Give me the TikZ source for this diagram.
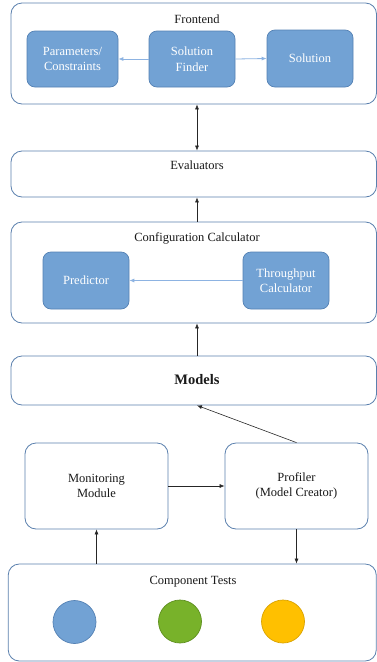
\documentclass[tikz,border=0pt]{standalone}
\usepackage{fontspec}
\setmainfont{Liberation Serif}
\usetikzlibrary{arrows.meta}
\definecolor{outerline}{HTML}{5B80AE}
\definecolor{innerfill}{HTML}{72A2D4}
\definecolor{innerline}{HTML}{5481B4}
\definecolor{lightarrow}{HTML}{8DB3E2}
\definecolor{cgreen}{HTML}{78B22A}
\definecolor{cgreenl}{HTML}{5E8F1F}
\definecolor{cyellow}{HTML}{FFC000}
\definecolor{cyellowl}{HTML}{D9A200}
\definecolor{txt}{HTML}{1A1A1A}
\begin{document}
\begin{tikzpicture}[x=1pt,y=-1pt,
  outerbox/.style={draw=outerline,line width=0.8pt,rounded corners=11pt,fill=white,inner sep=0pt},
  innerbox/.style={draw=innerline,line width=0.7pt,fill=innerfill,rounded corners=8pt,inner sep=0pt,
     text=white,font=\fontsize{12.5}{15.5}\selectfont,align=center},
  title/.style={text=txt,font=\fontsize{12.5}{15.5}\selectfont,inner sep=0pt,align=center},
  blk/.style={draw=black!85,line width=0.6pt,-{Latex[length=5pt,width=4pt]}},
  lblue/.style={draw=lightarrow,line width=0.8pt,-{Latex[length=5pt,width=4pt]}},
  dot/.style={circle,minimum size=43pt,inner sep=0pt,line width=0.7pt}]
\useasboundingbox (0,0) rectangle (377,662);
% outer boxes
\node[outerbox,minimum width=365.5pt,minimum height=101pt] (front) at (193.75,53.5) {};
\node[outerbox,minimum width=365.5pt,minimum height=46pt] (eval) at (193.75,174) {};
\node[outerbox,minimum width=365.5pt,minimum height=101pt] (cfg) at (193.75,272.5) {};
\node[outerbox,minimum width=365.5pt,minimum height=49pt] (models) at (193.75,380.5) {};
\node[outerbox,minimum width=143pt,minimum height=86pt] (mon) at (96.5,486) {};
\node[outerbox,minimum width=143pt,minimum height=86pt] (prof) at (296.5,486) {};
\node[outerbox,minimum width=368pt,minimum height=97pt] (comp) at (192.25,612.5) {};
% titles
\node[title] (frontT) at (197,19) {Frontend};
\node[title] (evalT) at (197,165) {Evaluators};
\node[title] (cfgT) at (197,238) {Configuration Calculator};
\node[title,font=\fontsize{14.5}{17}\selectfont\bfseries] (modelsT) at (197,380) {Models};
\node[title] (monT) at (96.5,486) {Monitoring\\Module};
\node[title] (profT) at (296.5,486) {Profiler\\(Model Creator)};
\node[title] (compT) at (193,582) {Component Tests};
% inner boxes
\node[innerbox,minimum width=91pt,minimum height=56pt] (params) at (72.5,59) {Parameters/\\Constraints};
\node[innerbox,minimum width=86pt,minimum height=56pt] (finder) at (192,59) {Solution\\Finder};
\node[innerbox,minimum width=86pt,minimum height=57pt] (sol) at (310,58.5) {Solution};
\node[innerbox,minimum width=86pt,minimum height=57pt] (pred) at (86,280.5) {Predictor};
\node[innerbox,minimum width=86pt,minimum height=57pt] (thr) at (286,280.5) {Throughput\\Calculator};
% circles
\node[dot,fill=innerfill,draw=innerline] (c1) at (74.5,622) {};
\node[dot,fill=cgreen,draw=cgreenl] (c2) at (180,621.5) {};
\node[dot,fill=cyellow,draw=cyellowl] (c3) at (283,621.5) {};
% light arrows
\draw[lblue] (finder.west) -- (params.east);
\draw[lblue] (finder.east) -- (sol.west);
\draw[lblue] (thr.west) -- (pred.east);
% black arrows
\coordinate (vx) at (197,0);
\draw[blk,{Latex[length=5pt,width=4pt]}-{Latex[length=5pt,width=4pt]}] (front.south -| vx) -- (eval.north -| vx);
\draw[blk] (cfg.north -| vx) -- (eval.south -| vx);
\draw[blk] (models.north -| vx) -- (cfg.south -| vx);
\draw[blk] (prof.north) -- (models.south -| vx);
\draw[blk] (mon.east) -- (prof.west);
\draw[blk] (comp.north -| mon.south) -- (mon.south);
\draw[blk] (prof.south) -- (comp.north -| prof.south);
\end{tikzpicture}
\end{document}
